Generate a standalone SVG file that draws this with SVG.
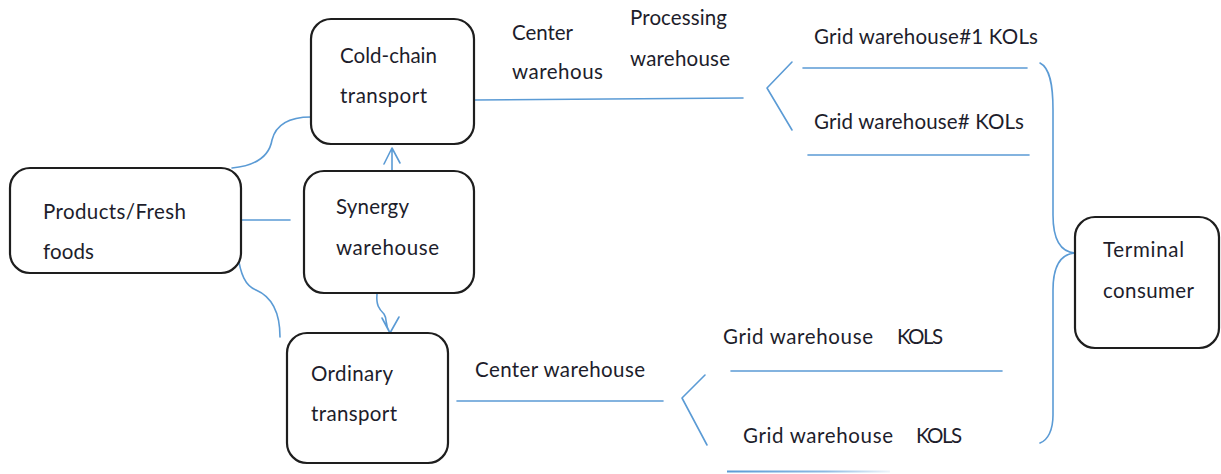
<svg xmlns="http://www.w3.org/2000/svg" width="1221" height="474" viewBox="0 0 1221 474">
  <defs>
    <style>
      .box { fill: #ffffff; stroke: #1e1e1e; stroke-width: 2.2; }
      .lbl { font-family: "Lato", "Liberation Sans", sans-serif; font-size: 20.5px; fill: #1d1d2b; }
      .wire { fill: none; stroke: #5b9bd5; stroke-width: 1.6; stroke-linecap: round; stroke-linejoin: round; }
    </style>
    <linearGradient id="fade" gradientUnits="userSpaceOnUse" x1="727" y1="0" x2="890" y2="0">
      <stop offset="0" stop-color="#5b9bd5"/>
      <stop offset="0.6" stop-color="#5b9bd5" stop-opacity="0.7"/>
      <stop offset="1" stop-color="#5b9bd5" stop-opacity="0.1"/>
    </linearGradient>
  </defs>
  <rect width="1221" height="474" fill="#ffffff"/>

  <!-- connectors -->
  <g id="connectors">
    <!-- products to cold-chain -->
    <path class="wire" d="M232,168 C262,165 270,152 272,140 C276,124 290,117 311,117"/>
    <!-- products to synergy -->
    <path class="wire" d="M241,220 L290,220"/>
    <!-- products to ordinary -->
    <path class="wire" d="M237,249 C240,276 246,286 256,290 C270,296 280,310 280,337"/>
    <!-- synergy up to cold-chain -->
    <path class="wire" d="M392,171 L392,148 M384,164 L392,148 L400,163"/>
    <!-- synergy down to ordinary -->
    <path class="wire" d="M377,294 C376,305 379,309 384,314 C388,320 384,324 390,333 M382,318 L390,333 L399,317"/>
    <!-- cold-chain branch -->
    <path class="wire" d="M474,100 L607,99 L743,98"/>
    <path class="wire" d="M792,62 L767,88 L792,130"/>
    <path class="wire" d="M803,68 L1027,68"/>
    <path class="wire" d="M808,155 L1029,155"/>
    <!-- ordinary branch -->
    <path class="wire" d="M457,401 L663,401"/>
    <path class="wire" d="M705,375 L682,398 L707,445"/>
    <path class="wire" d="M731,371 L1002,371"/>
    <path d="M727,471.5 L890,471.5" stroke="url(#fade)" stroke-width="2" fill="none"/>
    <!-- brace to terminal consumer -->
    <path class="wire" d="M1040,63 C1050,68 1053,85 1053,110 L1053,215 C1053,240 1060,252 1075,253 C1060,254 1053,266 1053,290 L1053,415 C1053,430 1048,440 1040,443"/>
  </g>

  <!-- branch labels -->
  <g id="branch-labels">
    <text class="lbl" x="512" y="40" textLength="61">Center</text>
    <text class="lbl" x="512" y="79" textLength="91">warehous</text>
    <text class="lbl" x="630" y="25" textLength="97">Processing</text>
    <text class="lbl" x="630" y="66" textLength="100">warehouse</text>
    <text class="lbl" x="814" y="44" textLength="224">Grid warehouse#1 KOLs</text>
    <text class="lbl" x="814" y="129" textLength="210">Grid warehouse# KOLs</text>
    <text class="lbl" x="475" y="377" textLength="170">Center warehouse</text>
    <text class="lbl" x="723" y="344" textLength="150">Grid warehouse</text>
    <text class="lbl" x="897" y="344" textLength="46">KOLS</text>
    <text class="lbl" x="743" y="443" textLength="150">Grid warehouse</text>
    <text class="lbl" x="916" y="443" textLength="46">KOLS</text>
  </g>

  <g id="products">
    <rect class="box" x="10" y="168" width="231" height="105" rx="20"/>
    <text class="lbl" x="43" y="219" textLength="143">Products/Fresh</text>
    <text class="lbl" x="43" y="259" textLength="51">foods</text>
  </g>

  <g id="cold-chain">
    <rect class="box" x="311" y="19" width="163" height="125" rx="20"/>
    <text class="lbl" x="340" y="63" textLength="97">Cold-chain</text>
    <text class="lbl" x="340" y="103" textLength="87">transport</text>
  </g>

  <g id="synergy">
    <rect class="box" x="304" y="171" width="170" height="122" rx="20"/>
    <text class="lbl" x="336" y="214" textLength="73">Synergy</text>
    <text class="lbl" x="336" y="255" textLength="103">warehouse</text>
  </g>

  <g id="ordinary">
    <rect class="box" x="287" y="333" width="161" height="130" rx="20"/>
    <text class="lbl" x="311" y="381" textLength="82">Ordinary</text>
    <text class="lbl" x="311" y="421" textLength="86">transport</text>
  </g>

  <g id="terminal">
    <rect class="box" x="1075" y="217" width="144" height="131" rx="20"/>
    <text class="lbl" x="1103" y="257" textLength="81">Terminal</text>
    <text class="lbl" x="1103" y="298" textLength="91">consumer</text>
  </g>
</svg>
